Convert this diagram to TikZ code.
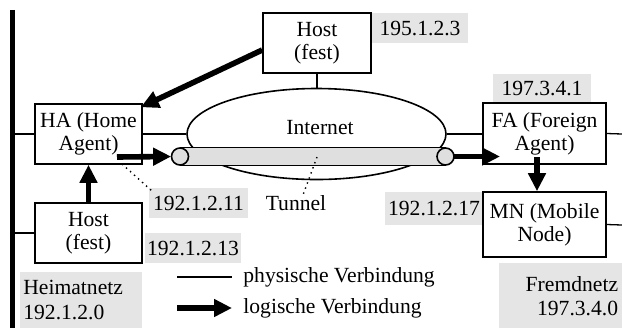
\documentclass[tikz,border=0pt]{standalone}
\usepackage{fontspec}
\setmainfont{Liberation Serif}
\usetikzlibrary{arrows.meta,shapes.geometric}
\begin{document}
\begin{tikzpicture}[x=0.5pt,y=-0.5pt,
  font=\fontsize{10.8}{11.6}\selectfont,
  box/.style={draw,line width=0.8pt,fill=white,inner sep=0pt,align=center},
  lab/.style={fill=gray!20,inner sep=0pt,align=center},
  txt/.style={inner sep=0pt},
  phys/.style={line width=0.65pt},
  logi/.style={line width=2.8pt,-{Triangle[length=9pt,width=8.5pt]}},
  dots/.style={dotted,line width=0.7pt}]
\useasboundingbox (0,0) rectangle (622,328);
% left bus
\coordinate (bartop) at (12.5,10);
\coordinate (barbot) at (12.5,328);
\draw[line width=2.3pt] (bartop) -- (barbot);
% labels
\node[lab,minimum width=48pt,minimum height=15pt] (l1) at (420,28) {195.1.2.3};
\node[lab,minimum width=49pt,minimum height=14pt] (l2) at (542,88) {197.3.4.1};
\node[lab,minimum width=49.5pt,minimum height=15pt] (l3) at (198.5,203) {192.1.2.11};
\node[lab,minimum width=48pt,minimum height=15pt] (l4) at (193,248) {192.1.2.13};
\node[lab,minimum width=49pt,minimum height=16.5pt] (l5) at (434,208.5) {192.1.2.17};
\node[lab,anchor=north west,minimum width=61pt,minimum height=28pt,text width=58pt,align=left,
  font=\fontsize{10.8}{12.5}\selectfont] (heim) at (20,272) {Heimatnetz\\192.1.2.0};
\node[lab,anchor=north east,minimum width=61.5pt,minimum height=32.5pt,text width=58pt,align=right,
  font=\fontsize{10.8}{12}\selectfont] (fremd) at (622,263) {Fremdnetz\\197.3.4.0};
% boxes
\node[box,minimum width=53.5pt,minimum height=30pt] (ha) at (88.5,134) {HA (Home\\Agent)};
\node[box,minimum width=54pt,minimum height=30pt] (hostt) at (317,43) {Host\\(fest)};
\node[box,minimum width=61.5pt,minimum height=30.5pt] (fa) at (544.5,133.5) {FA (Foreign\\Agent)};
\node[box,minimum width=61.5pt,minimum height=32.5pt] (mn) at (544.5,224.5) {MN (Mobile\\Node)};
\node[box,minimum width=53.5pt,minimum height=30pt] (hostb) at (88.5,233) {Host\\(fest)};
% internet
\node[draw,ellipse,line width=0.8pt,minimum width=129.5pt,minimum height=45.5pt,inner sep=0pt] (inet) at (316.5,134) {};
\node[txt] (inettxt) at (320,128) {Internet};
% physical links
\draw[phys] (ha.west -| bartop) -- (ha.west);
\draw[phys] (hostb.west -| bartop) -- (hostb.west);
\draw[phys] (ha.east) -- (inet.west);
\draw[phys] (hostt.south) -- (hostt.south |- inet.north);
\draw[phys] (inet.east) -- (fa.west |- inet.east);
\coordinate (redge1) at (622,134);
\coordinate (redge2) at (622,225);
\draw[phys] (fa.east) -- (redge1);
\draw[phys] (mn.east) -- (redge2);
% tunnel
\path node[circle,minimum size=8.5pt,inner sep=0pt] (tunl) at (180,156.5) {}
      node[circle,minimum size=8.5pt,inner sep=0pt] (tunr) at (445.5,156.5) {};
\fill[gray!25] (tunl.north) rectangle (tunr.south);
\draw[line width=0.8pt] (tunl.north) -- (tunr.north);
\draw[line width=0.8pt] (tunl.south) -- (tunr.south);
\draw[line width=0.8pt,fill=gray!25] (tunl.center) circle[radius=4.25pt];
\draw[line width=0.8pt,fill=gray!25] (tunr.center) circle[radius=4.25pt];
\node[txt] (tuntxt) at (296,203) {Tunnel};
\coordinate (tundot) at (317,157);
\draw[dots] (tundot) -- ([xshift=3.5pt]tuntxt.north);
\coordinate (hadot) at (122,164);
\draw[dots] (hadot) -- ([xshift=2pt,yshift=-2pt]l3.north west);
% logical links
\draw[logi] ([yshift=-3.5pt]hostt.west) -- ([shift={(-1pt,-2pt)}]ha.north east);
\coordinate (haout) at (117,157);
\draw[logi] (haout) -- (tunl.west);
\coordinate (fain) at (500,156.5);
\draw[logi] (tunr.east) -- (fain);
\coordinate (faout) at (537,157);
\draw[logi] (faout) -- (faout |- mn.north);
\draw[logi] (hostb.north) -- (ha.south);
% legend
\coordinate (lp1) at (177,277);
\coordinate (lp2) at (232,277);
\draw[phys] (lp1) -- (lp2);
\node[txt,anchor=west] (lpt) at (243,277) {physische Verbindung};
\coordinate (ll1) at (177,308);
\coordinate (ll2) at (232,308);
\draw[logi] (ll1) -- (ll2);
\node[txt,anchor=west] (llt) at (243,308) {logische Verbindung};
\end{tikzpicture}
\end{document}
